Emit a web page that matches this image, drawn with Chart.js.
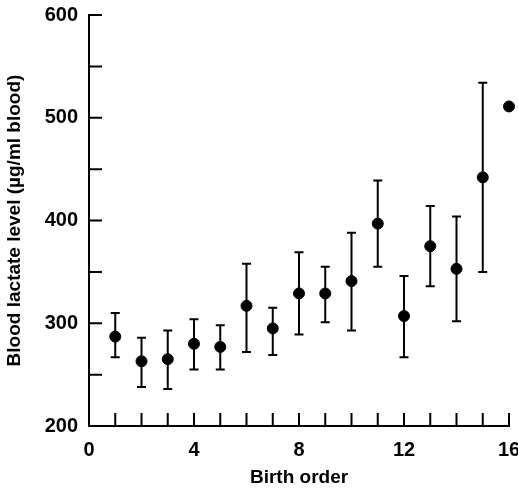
<!DOCTYPE html>
<html>
<head>
<meta charset="utf-8">
<script src="https://cdn.jsdelivr.net/npm/chart.js@4"></script>
<style>
	body { margin: 0; background: #fff; }
	#myChart { display: block; }
</style>
</head>
<body>
<canvas id="myChart" width="518" height="490"></canvas>
<script>
// birth order and mean blood lactate (ug/ml), with the ends of the error bars
let birthOrder = [1, 2, 3, 4, 5, 6, 7, 8, 9, 10, 11, 12, 13, 14, 15, 16];
let lactate   = [287, 263, 265, 280, 277, 317, 295, 329, 329, 341, 397, 307, 375, 353, 442, 511];
let errLow    = [267, 238, 236, 255, 255, 272, 269, 289, 301, 293, 355, 267, 336, 302, 350, null];
let errHigh   = [310, 286, 293, 304, 298, 358, 315, 369, 355, 388, 439, 346, 414, 404, 534, null];

let xLabels = [0, 4, 8, 12, 16];
let yLabels = [200, 300, 400, 500, 600];

const font = "'Liberation Sans', Arial, sans-serif";

// error bars, drawn through the scales
const errorBars = {
	id: 'errorBars',
	afterDatasetsDraw(chart) {
		const ctx = chart.ctx;
		const xs = chart.scales.x, ys = chart.scales.y;
		ctx.save();
		ctx.strokeStyle = '#000';
		ctx.lineWidth = 2;
		birthOrder.forEach((b, i) => {
			if (errLow[i] == null) return;
			let x = xs.getPixelForValue(b);
			let y1 = ys.getPixelForValue(errLow[i]);
			let y2 = ys.getPixelForValue(errHigh[i]);
			ctx.beginPath();
			ctx.moveTo(x, y1); ctx.lineTo(x, y2);
			ctx.moveTo(x - 4.5, y1); ctx.lineTo(x + 4.5, y1);
			ctx.moveTo(x - 4.5, y2); ctx.lineTo(x + 4.5, y2);
			ctx.stroke();
		});
		ctx.restore();
	}
};

// tick marks pointing into the plot
const innerTicks = {
	id: 'innerTicks',
	afterDraw(chart) {
		const ctx = chart.ctx;
		const xs = chart.scales.x, ys = chart.scales.y;
		const area = chart.chartArea;
		ctx.save();
		ctx.strokeStyle = '#000';
		ctx.lineWidth = 2;
		ctx.beginPath();
		xs.ticks.forEach(t => {
			if (t.value === 0) return;
			let x = xs.getPixelForValue(t.value);
			ctx.moveTo(x, area.bottom); ctx.lineTo(x, area.bottom - 13);
		});
		ys.ticks.forEach(t => {
			if (t.value === 200) return;
			let y = ys.getPixelForValue(t.value);
			ctx.moveTo(area.left, y); ctx.lineTo(area.left + 13, y);
		});
		ctx.stroke();
		ctx.restore();
	}
};

let ctx = document.getElementById('myChart');
let myChart = new Chart(ctx, {
	type: 'scatter',
	data: {
		datasets: [{
			label: 'Blood lactate',
			data: birthOrder.map((b, i) => ({x: b, y: lactate[i]})),
			backgroundColor: '#000',
			borderColor: '#000',
			pointRadius: 5.5,
			clip: false
		}]
	},
	options: {
		responsive: false,
		animation: false,
		events: [],
		layout: { autoPadding: false, padding: {top: 15, right: 9, left: 0, bottom: 0} },
		plugins: { legend: {display: false}, tooltip: {enabled: false} },
		scales: {
			x: {
				type: 'linear', min: 0, max: 16,
				afterFit: s => { s.height = 64; s.paddingLeft = 0; s.paddingRight = 0; },
				grid: {display: false, drawTicks: false},
				border: {display: true, color: '#000', width: 2},
				ticks: {
					stepSize: 1, autoSkip: false, maxRotation: 0, padding: 12,
					color: '#000', font: {family: font, size: 20, weight: 'bold'},
					callback: v => xLabels.includes(v) ? v : ''
				},
				title: {display: true, text: 'Birth order', color: '#000',
					font: {family: font, size: 19, weight: 'bold'}, padding: {top: 0, bottom: 1}}
			},
			y: {
				min: 200, max: 600,
				afterFit: s => { s.width = 89; s.paddingTop = 0; s.paddingBottom = 0; },
				grid: {display: false, drawTicks: false},
				border: {display: true, color: '#000', width: 2},
				ticks: {
					stepSize: 50, autoSkip: false, padding: 11,
					color: '#000', font: {family: font, size: 20, weight: 'bold'},
					callback: v => yLabels.includes(v) ? v : ''
				},
				title: {display: true, text: 'Blood lactate level (\u00b5g/ml blood)', color: '#000',
					font: {family: font, size: 19, weight: 'bold'}, padding: {top: 3, bottom: 0}}
			}
		}
	},
	plugins: [errorBars, innerTicks]
});
</script>
</body>
</html>
